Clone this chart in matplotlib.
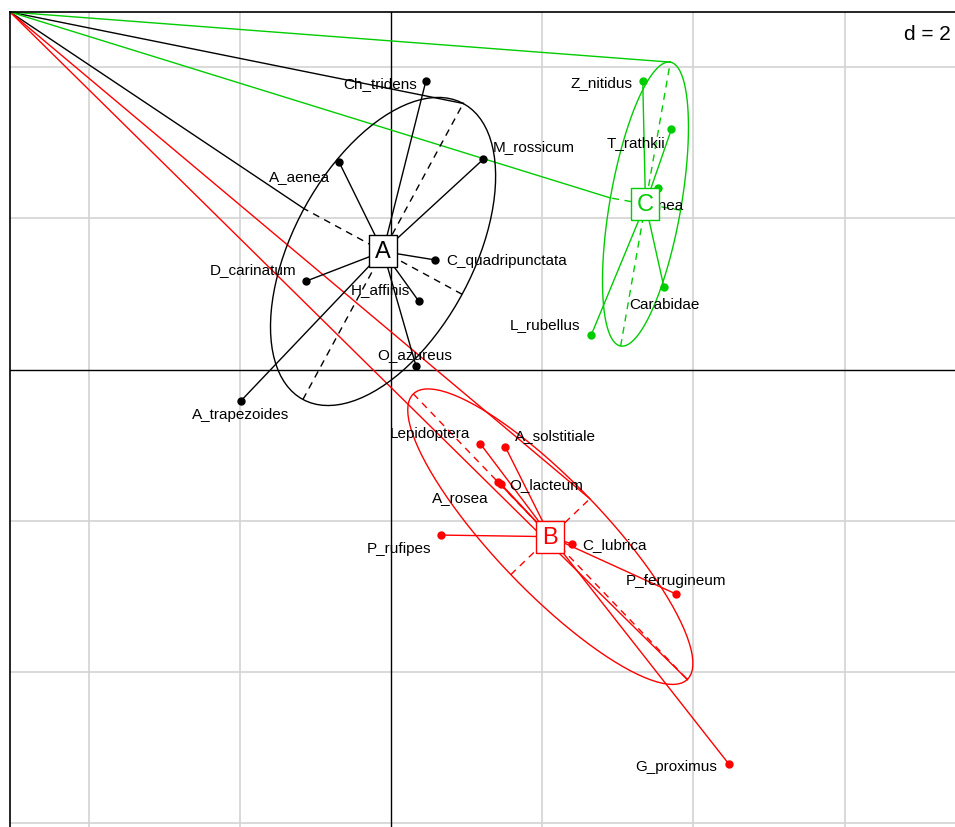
import numpy as np
import matplotlib
matplotlib.use("Agg")
import matplotlib.pyplot as plt

plt.rcParams['font.family'] = ['Liberation Sans', 'DejaVu Sans']

# class A (black)
a_names = ['Ch_tridens', 'M_rossicum', 'A_aenea', 'C_quadripunctata',
           'D_carinatum', 'H_affinis', 'O_azureus', 'A_trapezoides']
a_x = [0.46, 1.22, -0.69, 0.58, -1.12, 0.37, 0.33, -1.99]
a_y = [3.81, 2.78, 2.75, 1.45, 1.17, 0.90, 0.05, -0.42]

# class B (red)
b_names = ['Lepidoptera', 'A_solstitiale', 'O_lacteum', 'A_rosea',
           'P_rufipes', 'C_lubrica', 'P_ferrugineum', 'G_proximus']
b_x = [1.18, 1.51, 1.45, 1.42, 0.66, 2.40, 3.77, 4.47]
b_y = [-0.98, -1.02, -1.51, -1.49, -2.19, -2.31, -2.97, -5.22]

# class C (green)
c_names = ['Z_nitidus', 'T_rathkii', 'Aranea', 'Carabidae', 'L_rubellus']
c_x = [3.33, 3.71, 3.53, 3.61, 2.65]
c_y = [3.81, 3.18, 2.40, 1.09, 0.46]

# label offsets (pixels, y up)
a_off = [(-46, -2), (51, 13), (-39, -14), (72, 0), (-53, 12), (-39, 12), (-1, 12), (0, -13)]
b_off = [(-50, 11), (50, 12), (46, 0), (-38, -15), (-42, -13), (42, 0), (0, 14), (-53, -2)]
c_off = [(-41, -1), (-36, -13), (2, -17), (1, -17), (-46, 11)]

classes = [('A', a_names, a_x, a_y, a_off, 'black'),
           ('B', b_names, b_x, b_y, b_off, '#FF0000'),
           ('C', c_names, c_x, c_y, c_off, '#00CD00')]

W, H = 955, 828
fig = plt.figure(figsize=(W / 100, H / 100), dpi=100)
ax = fig.add_axes([10 / W, 0, (W - 10) / W, (H - 13) / H])
sc = 75.6
ax.set_xlim((10 - 391) / sc, (W - 391) / sc)
ax.set_ylim((370.5 - H) / sc, (370.5 - 13) / sc)
ax.set_xticks([])
ax.set_yticks([])
for s in ['right', 'bottom']:
    ax.spines[s].set_visible(False)
for s in ['left', 'top']:
    ax.spines[s].set_linewidth(1.2)

for g in [-4, -2, 2, 4, 6]:
    ax.axvline(g, color='#d3d3d3', lw=1.2, zorder=0)
for g in [-6, -4, -2, 2, 4]:
    ax.axhline(g, color='#d3d3d3', lw=1.2, zorder=0)
ax.axvline(0, color='black', lw=1.0, zorder=1)
ax.axhline(0, color='black', lw=1.0, zorder=1)

x0, x1 = ax.get_xlim()
y0, y1 = ax.get_ylim()
corner = (x0, y1)

box = [(-0.44, -0.5), (0.44, -0.5), (0.44, 0.5), (-0.44, 0.5), (-0.44, -0.5)]

t = np.linspace(0, 2 * np.pi, 100)
for lab, names, xs, ys, offs, col in classes:
    xs = np.array(xs)
    ys = np.array(ys)
    mx, my = xs.mean(), ys.mean()
    cov = np.cov(np.vstack([xs, ys]), bias=True)
    vals, vecs = np.linalg.eigh(cov)
    v1 = vecs[:, 1]
    if v1[0] < 0:
        v1 = -v1
    v2 = np.array([-v1[1], v1[0]])
    a = 1.5 * np.sqrt(vals[1])
    b = 1.5 * np.sqrt(vals[0])
    ex = mx + a * np.cos(t) * v1[0] + b * np.sin(t) * v2[0]
    ey = my + a * np.cos(t) * v1[1] + b * np.sin(t) * v2[1]
    ax.plot(ex, ey, color=col, lw=1.0, zorder=3)
    # ellipse axes
    ax.plot([mx - a * v1[0], mx + a * v1[0]], [my - a * v1[1], my + a * v1[1]],
            color=col, lw=1.0, ls=(0, (5, 4)), zorder=3)
    ax.plot([mx - b * v2[0], mx + b * v2[0]], [my - b * v2[1], my + b * v2[1]],
            color=col, lw=1.0, ls=(0, (5, 4)), zorder=3)
    # stray segments from the corner
    for px, py in [(mx + a * v1[0], my + a * v1[1]), (mx + b * v2[0], my + b * v2[1])]:
        ax.plot([corner[0], px], [corner[1], py], color=col, lw=1.0, zorder=2,
                clip_on=False)
    # star
    for px, py in zip(xs, ys):
        ax.plot([mx, px], [my, py], color=col, lw=1.0, zorder=4)
    ax.plot(xs, ys, 'o', color=col, ms=5, zorder=5)
    for nm, px, py, off in zip(names, xs, ys, offs):
        ax.annotate(nm, (px, py), xytext=off, textcoords='offset pixels',
                    ha='center', va='center', fontsize=11, color='black', zorder=6)
    ax.plot([mx], [my], marker=box, ms=23, mfc='white', mec=col, mew=1.0, zorder=8)
    ax.text(mx, my, lab, ha='center', va='center', fontsize=17, color=col, zorder=9)

fig.text(951 / W, 1 - 35 / H, 'd = 2', ha='right', va='center', fontsize=15,
         bbox=dict(facecolor='white', edgecolor='none', pad=1))

fig.savefig('out.png', dpi=100)
